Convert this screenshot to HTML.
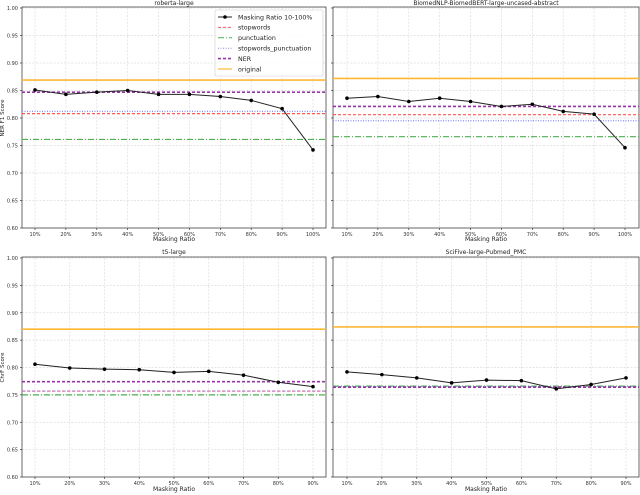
<!DOCTYPE html>
<html><head><meta charset="utf-8"><style>
html,body{margin:0;padding:0;background:#fff;}
svg{display:block;font-family:"DejaVu Sans","Liberation Sans",sans-serif;}
</style></head><body>
<svg id="fig" width="640" height="495" viewBox="0 0 640 495"></svg>
<script>
const xlabels1 = ["10%","20%","30%","40%","50%","60%","70%","80%","90%","100%"];
const xlabels2 = ["10%","20%","30%","40%","50%","60%","70%","80%","90%"];
const yTicks = [0.60,0.65,0.70,0.75,0.80,0.85,0.90,0.95,1.00];
const titles = ["roberta-large","BiomedNLP-BiomedBERT-large-uncased-abstract","t5-large","SciFive-large-Pubmed_PMC"];
const maskRoberta = [0.851,0.843,0.847,0.850,0.843,0.843,0.839,0.832,0.817,0.742];
const maskBiomed = [0.836,0.839,0.830,0.836,0.830,0.821,0.825,0.812,0.807,0.746];
const maskT5 = [0.806,0.799,0.797,0.796,0.791,0.793,0.786,0.773,0.765];
const maskSciFive = [0.792,0.787,0.781,0.772,0.777,0.776,0.761,0.769,0.781];
const originalVals = [0.869,0.872,0.870,0.874];
const nerVals = [0.847,0.821,0.774,0.764];
const stopwordsVals = [0.808,0.806,0.757,0.765];
const stopPunctVals = [0.812,0.795,0.757,0.765];
const punctVals = [0.761,0.766,0.750,0.766];

const NS="http://www.w3.org/2000/svg";
const svg=document.getElementById('fig');
function mk(tag,attrs,parent){const e=document.createElementNS(NS,tag);for(const k in attrs)e.setAttribute(k,attrs[k]);(parent||svg).appendChild(e);return e;}

const panels=[
 {x0:22,x1:326,yTop:8,yBot:228,t0:35,t1:313,labels:xlabels1,mask:maskRoberta,ylab:"NER F1 Score",showY:true,legend:true,xlabY:241,titleY:5},
 {x0:333,x1:639,yTop:8,yBot:228,t0:347,t1:625,labels:xlabels1,mask:maskBiomed,ylab:null,showY:false,legend:false,xlabY:241,titleY:5},
 {x0:22,x1:326,yTop:258,yBot:477,t0:35,t1:313,labels:xlabels2,mask:maskT5,ylab:"ChrF Score",showY:true,legend:false,xlabY:491,titleY:254},
 {x0:333,x1:639,yTop:258,yBot:477,t0:347,t1:626,labels:xlabels2,mask:maskSciFive,ylab:null,showY:false,legend:false,xlabY:491,titleY:254}
];
const baseStyles=[
 {vals:stopwordsVals,color:"#ff5555",dash:"3,2",w:1.2,name:"stopwords-line"},
 {vals:punctVals,color:"#4caf50",dash:"6,2,1,2",w:1.2,name:"punctuation-line"},
 {vals:stopPunctVals,color:"#8888ff",dash:"1,1.5",w:1.2,name:"stopwords-punctuation-line"},
 {vals:nerVals,color:"#9933aa",dash:"3,2",w:1.6,name:"ner-line"},
 {vals:originalVals,color:"#ffb733",dash:"",w:1.6,name:"original-line"}
];
panels.forEach((p,pi)=>{
  const g=mk('g',{});
  
  
  const ys=v=>p.yBot-(v-0.60)/(0.40)*(p.yBot-p.yTop);
  const n=p.labels.length;
  const xs=i=>p.t0+i*(p.t1-p.t0)/(n-1);
  // grid
  yTicks.forEach(v=>{
    const l=mk('line',{x1:p.x0,x2:p.x1,y1:ys(v),y2:ys(v),stroke:"#ddd","stroke-width":0.7,"stroke-dasharray":"2,1.5"},g);
    
    
    mk('line',{x1:p.x0-2,x2:p.x0,y1:ys(v),y2:ys(v),stroke:"#333","stroke-width":0.7},g);
    if(p.showY){const t=mk('text',{x:p.x0-4,y:ys(v)+2,"font-size":5,"text-anchor":"end",fill:"#333"},g);t.textContent=v.toFixed(2);
      
      }
  });
  p.labels.forEach((lb,i)=>{
    mk('line',{x1:xs(i),x2:xs(i),y1:p.yTop,y2:p.yBot,stroke:"#ddd","stroke-width":0.7,"stroke-dasharray":"2,1.5"},g);
    mk('line',{x1:xs(i),x2:xs(i),y1:p.yBot,y2:p.yBot+2,stroke:"#333","stroke-width":0.7},g);
    const t=mk('text',{x:xs(i),y:p.yBot+8,"font-size":5,"text-anchor":"middle",fill:"#333"},g);t.textContent=lb;
    
    
  });
  // frame
  mk('rect',{x:p.x0,y:p.yTop-1,width:p.x1-p.x0,height:p.yBot-p.yTop+1,fill:"none",stroke:"#444","stroke-width":0.8},g);
  // baselines
  baseStyles.forEach(b=>{
    const l=mk('line',{x1:p.x0,x2:p.x1,y1:ys(b.vals[pi]),y2:ys(b.vals[pi]),stroke:b.color,"stroke-width":b.w,"stroke-dasharray":b.dash},g);
    
    
  });
  // mask series
  const pts=p.mask.map((v,i)=>xs(i)+","+ys(v)).join(" ");
  const pl=mk('polyline',{points:pts,fill:"none",stroke:"#222","stroke-width":1},g);
  
  
  p.mask.forEach((v,i)=>{
    const c=mk('circle',{cx:xs(i),cy:ys(v),r:1.8,fill:"#000"},g);
    
    
  });
  const tt=mk('text',{x:(p.x0+p.x1)/2,y:p.titleY,"font-size":6,"text-anchor":"middle",fill:"#222"},g);tt.textContent=titles[pi];
  
  
  const xl=mk('text',{x:(p.x0+p.x1)/2,y:p.xlabY,"font-size":6,"text-anchor":"middle",fill:"#222"},g);xl.textContent="Masking Ratio";
  
  
  if(p.ylab){const cy=(p.yTop+p.yBot)/2;const yl=mk('text',{x:4,y:cy,"font-size":5.5,"text-anchor":"middle",fill:"#222",transform:`rotate(-90 4 ${cy})`},g);yl.textContent=p.ylab;
    
    }
  if(p.legend){
    const lg=mk('g',{},g);
    
    
    mk('rect',{x:215,y:10,width:108,height:66,fill:"#fff","fill-opacity":0.85,stroke:"#ccc","stroke-width":0.6,rx:1.5},lg);
    const entries=[{label:"Masking Ratio 10-100%",color:"#222",dash:"",w:1,marker:true},
      {label:"stopwords",color:"#ff5555",dash:"3,2",w:1},
      {label:"punctuation",color:"#4caf50",dash:"6,2,1,2",w:1},
      {label:"stopwords_punctuation",color:"#8888ff",dash:"1,1.5",w:1},
      {label:"NER",color:"#9933aa",dash:"3,2",w:1.6},
      {label:"original",color:"#ffb733",dash:"",w:1.2}];
    entries.forEach((e,i)=>{
      const y=17+i*10.4;
      const row=mk('g',{},lg);
      
      
      mk('line',{x1:218,x2:232,y1:y,y2:y,stroke:e.color,"stroke-width":e.w,"stroke-dasharray":e.dash},row);
      if(e.marker)mk('circle',{cx:225,cy:y,r:1.8,fill:"#000"},row);
      const t=mk('text',{x:238,y:y+2.3,"font-size":6.3,fill:"#222"},row);t.textContent=e.label;
    });
  }
});
</script>
</body></html>
